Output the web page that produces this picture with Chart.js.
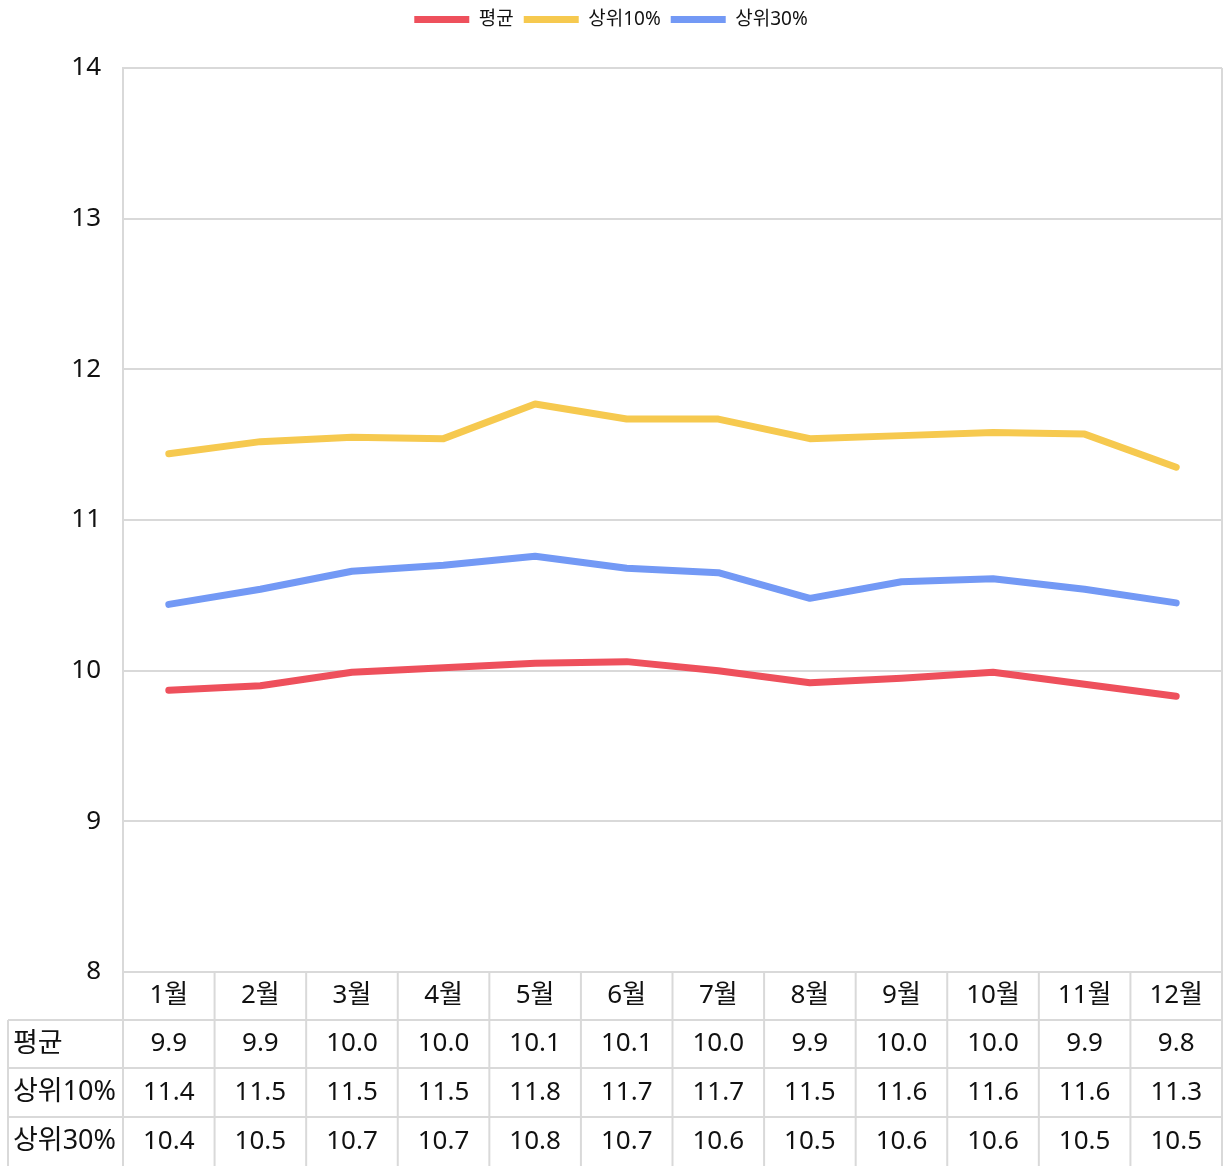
<!DOCTYPE html>
<html>
<head>
<meta charset="utf-8">
<script src="https://cdn.jsdelivr.net/npm/chart.js@4.4.0/dist/chart.umd.min.js"></script>
<style>
  html, body { margin: 0; padding: 0; background: #ffffff; }
  #wrap { width: 1223px; height: 1166px; position: relative; }
</style>
</head>
<body>
<div id="wrap"><canvas id="c"></canvas></div>
<script>
// ---- data ----
const months = ['1월','2월','3월','4월','5월','6월','7월','8월','9월','10월','11월','12월'];
const seriesNames = ['평균', '상위10%', '상위30%'];
const avgValues   = [9.87, 9.90, 9.99, 10.02, 10.05, 10.06, 10.00, 9.92, 9.95, 9.99, 9.91, 9.83];
const top10Values = [11.44, 11.52, 11.55, 11.54, 11.77, 11.67, 11.67, 11.54, 11.56, 11.58, 11.57, 11.35];
const top30Values = [10.44, 10.54, 10.66, 10.70, 10.76, 10.68, 10.65, 10.48, 10.59, 10.61, 10.54, 10.45];
const avgTable   = ['9.9','9.9','10.0','10.0','10.1','10.1','10.0','9.9','10.0','10.0','9.9','9.8'];
const top10Table = ['11.4','11.5','11.5','11.5','11.8','11.7','11.7','11.5','11.6','11.6','11.6','11.3'];
const top30Table = ['10.4','10.5','10.7','10.7','10.8','10.7','10.6','10.5','10.6','10.6','10.5','10.5'];
const yMin = 8, yMax = 14, yStep = 1;

const colors = ['#EE505C', '#F6C94F', '#7399F5'];
const FONT = "'Noto Sans', 'Noto Sans CJK KR', sans-serif";
const GRID = '#d9d9d9';

const legendGap = {
  id: 'legendGap',
  beforeInit(chart) {
    const orig = chart.legend.fit;
    chart.legend.fit = function () {
      orig.bind(chart.legend)();
      this.height += 29;
    };
  }
};

const tablePlugin = {
  id: 'dataTable',
  afterDraw(chart) {
    const ctx = chart.ctx;
    const area = chart.chartArea;
    const xs = chart.scales.x;
    const L = area.left, R = area.right, T = area.bottom;
    const n = months.length;
    const colW = (R - L) / n;
    const rowH = [48, 48, 49, 49];
    const rowsY = [T];
    for (let i = 0; i < rowH.length; i++) rowsY.push(rowsY[i] + rowH[i]);
    const labelLeft = 8;
    ctx.save();
    ctx.strokeStyle = GRID;
    ctx.lineWidth = 2;
    ctx.beginPath();
    ctx.moveTo(R, area.top); ctx.lineTo(R, rowsY[4]);
    ctx.stroke();
    for (let r = 0; r < 4; r++) {
      ctx.beginPath();
      ctx.moveTo(r === 0 ? L : labelLeft, rowsY[r]);
      ctx.lineTo(R, rowsY[r]);
      ctx.stroke();
    }
    for (let i = 0; i <= n; i++) {
      const xp = i < n ? xs.getPixelForValue(i) - colW / 2 : R;
      ctx.beginPath();
      ctx.moveTo(xp, rowsY[0]); ctx.lineTo(xp, rowsY[4]);
      ctx.stroke();
    }
    ctx.beginPath();
    ctx.moveTo(labelLeft, rowsY[1]); ctx.lineTo(labelLeft, rowsY[4]);
    ctx.stroke();

    ctx.fillStyle = '#111';
    ctx.font = '26px ' + FONT;
    ctx.textBaseline = 'middle';
    ctx.textAlign = 'center';
    const tables = [avgTable, top10Table, top30Table];
    for (let i = 0; i < n; i++) {
      const cx = xs.getPixelForValue(i);
      ctx.fillText(months[i], cx, (rowsY[0] + rowsY[1]) / 2);
      for (let r = 0; r < 3; r++) {
        ctx.fillText(tables[r][i], cx, (rowsY[r + 1] + rowsY[r + 2]) / 2);
      }
    }
    ctx.textAlign = 'left';
    ctx.font = '27px ' + FONT;
    for (let r = 0; r < 3; r++) {
      ctx.fillText(seriesNames[r], 13, (rowsY[r + 1] + rowsY[r + 2]) / 2);
    }
    ctx.restore();
  }
};

const mk = (i, data) => ({
  label: seriesNames[i],
  data: data,
  borderColor: colors[i],
  backgroundColor: colors[i],
  borderWidth: 7,
  borderCapStyle: 'round',
  borderJoinStyle: 'round',
  pointRadius: 0,
  pointHoverRadius: 0,
  pointStyle: 'line',
  tension: 0,
  fill: false
});

new Chart(document.getElementById('c'), {
  type: 'line',
  data: {
    labels: months,
    datasets: [mk(0, avgValues), mk(1, top10Values), mk(2, top30Values)]
  },
  options: {
    responsive: true,
    maintainAspectRatio: false,
    animation: false,
    events: [],
    layout: { padding: { top: 0, right: 1, bottom: 186, left: 0 } },
    plugins: {
      tooltip: { enabled: false },
      legend: {
        position: 'top',
        labels: {
          usePointStyle: true,
          pointStyle: 'line',
          pointStyleWidth: 55,
          boxHeight: 6,
          padding: 10,
          color: '#111',
          font: { family: FONT, size: 19 }
        }
      }
    },
    scales: {
      x: {
        type: 'category',
        offset: true,
        grid: { display: false },
        border: { display: false },
        ticks: { display: false }
      },
      y: {
        min: yMin, max: yMax,
        afterFit(scale) { scale.width = 123; },
        ticks: {
          stepSize: yStep,
          padding: 22,
          color: '#111',
          font: { family: FONT, size: 26 }
        },
        grid: { color: GRID, lineWidth: 2, drawTicks: false },
        border: { display: true, color: GRID, width: 2 }
      }
    }
  },
  plugins: [legendGap, tablePlugin]
});
</script>
</body>
</html>
